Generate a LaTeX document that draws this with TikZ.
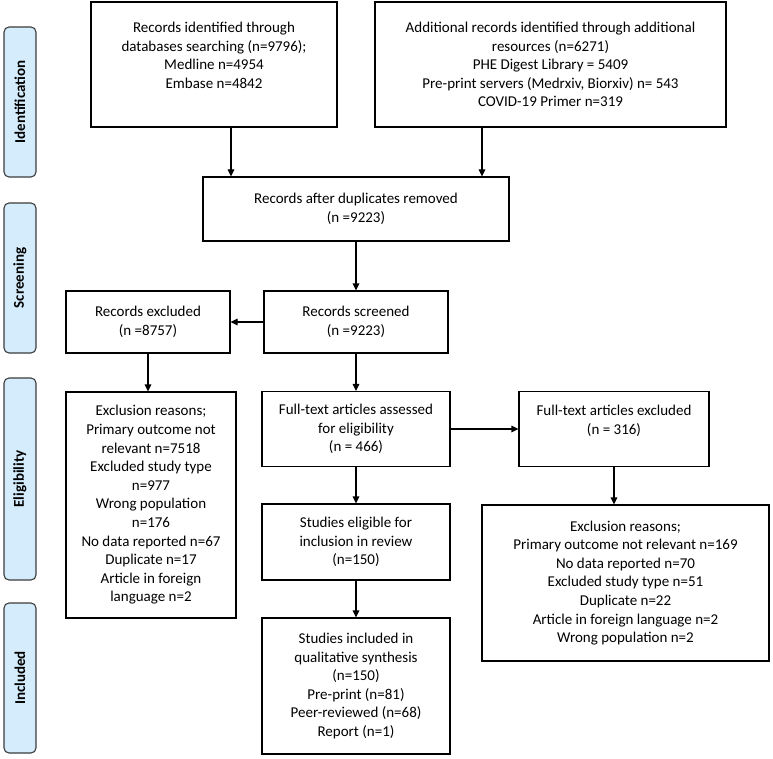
\documentclass[tikz,border=0pt]{standalone}
\usepackage{fontspec}
\setmainfont{Carlito}
\usetikzlibrary{arrows.meta}
\definecolor{lblfill}{HTML}{D4ECFB}
\definecolor{lbldraw}{HTML}{3C3C3C}
\tikzset{
  box/.style={draw=black, line width=1.1pt, align=center, inner sep=2pt,
    font=\fontsize{15pt}{18.6pt}\selectfont, text=black},
  lbl/.style={draw=lbldraw, fill=lblfill, line width=1.1pt, rounded corners=5pt},
  lbltext/.style={rotate=90, font=\fontsize{15pt}{17pt}\selectfont\bfseries, text=black},
  arr/.style={-{Triangle[length=7pt,width=6.5pt]}, line width=1.1pt}
}
\begin{document}
\begin{tikzpicture}[x=1pt,y=-1pt]
\useasboundingbox (0,0) rectangle (773,759);
% phase labels
\node[lbl, minimum width=32, minimum height=150] (lid) at (20,102) {};
\node[lbltext] (lidt) at (lid.center) {Identification};
\node[lbl, minimum width=32, minimum height=150] (lsc) at (20,278) {};
\node[lbltext] (lsct) at (lsc.center) {Screening};
\node[lbl, minimum width=32, minimum height=202] (lel) at (20,479) {};
\node[lbltext] (lelt) at (lel.center) {Eligibility};
\node[lbl, minimum width=32, minimum height=150] (lin) at (20,678) {};
\node[lbltext] (lint) at (lin.center) {Included};
% boxes
\node[box, minimum width=246, minimum height=125] (b1) at (214,64.5)
  {Records identified through\\databases searching (n=9796);\\Medline n=4954\\Embase n=4842\\\mbox{}};
\node[box, minimum width=351, minimum height=125] (b2) at (550.5,64.5)
  {Additional records identified through additional\\resources (n=6271)\\PHE Digest Library = 5409\\Pre-print servers (Medrxiv, Biorxiv) n= 543\\COVID-19 Primer n=319};
\node[box, minimum width=306, minimum height=64] (dup) at (356,209)
  {Records after duplicates removed\\(n =9223)};
\node[box, minimum width=184, minimum height=62] (scr) at (356,322)
  {Records screened\\(n =9223)};
\node[box, minimum width=164, minimum height=62] (rex) at (148,322)
  {Records excluded\\(n =8757)};
\node[box, minimum width=170, minimum height=226] (exl) at (151,505)
  {Exclusion reasons;\\Primary outcome not\\relevant n=7518\\Excluded study type\\n=977\\Wrong population\\n=176\\No data reported n=67\\Duplicate n=17\\Article in foreign\\language n=2};
\node[box, minimum width=188, minimum height=75] (fta) at (356,429)
  {Full-text articles assessed\\for eligibility\\(n = 466)};
\node[box, minimum width=190, minimum height=75] (fte) at (614,429)
  {Full-text articles excluded\\(n = 316)\\\mbox{}};
\node[box, minimum width=287, minimum height=156] (exr) at (625.5,583)
  {Exclusion reasons;\\Primary outcome not relevant n=169\\No data reported n=70\\Excluded study type n=51\\Duplicate n=22\\Article in foreign language n=2\\Wrong population n=2};
\node[box, minimum width=188, minimum height=76] (elig) at (356,542)
  {Studies eligible for\\inclusion in review\\(n=150)};
\node[box, minimum width=188, minimum height=136] (inc) at (356,686)
  {Studies included in\\qualitative synthesis\\(n=150)\\Pre-print (n=81)\\Peer-reviewed (n=68)\\Report (n=1)};
% connectors
\draw[arr] ([xshift=17pt]b1.south) -- ([xshift=17pt]b1.south |- dup.north);
\draw[arr] ([xshift=-68.5pt]b2.south) -- ([xshift=-68.5pt]b2.south |- dup.north);
\draw[arr] (dup.south) -- (scr.north);
\draw[arr] (scr.west) -- (rex.east);
\draw[arr] (rex.south) -- (rex.south |- exl.north);
\draw[arr] (scr.south) -- (fta.north);
\draw[arr] (fta.east) -- (fte.west);
\draw[arr] (fte.south) -- (fte.south |- exr.north);
\draw[arr] (fta.south) -- (elig.north);
\draw[arr] (elig.south) -- (inc.north);
\end{tikzpicture}
\end{document}
